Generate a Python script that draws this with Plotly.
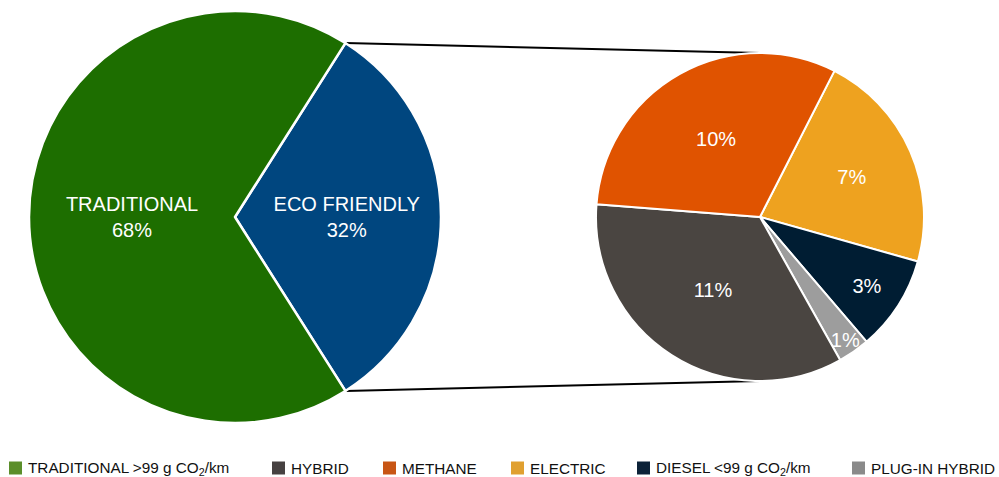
import math
import plotly.graph_objects as go

# --- data -------------------------------------------------------------
main_labels = ["ECO FRIENDLY", "TRADITIONAL"]
main_values = [32, 68]
main_colors = ["#00467f", "#1d6e00"]

eco_labels = ["ELECTRIC", "DIESEL <99 g CO<sub>2</sub>/km", "PLUG-IN HYBRID", "HYBRID", "METHANE"]
eco_values = [7, 3, 1, 11, 10]
eco_colors = ["#eea21f", "#001d33", "#9d9d9d", "#4a4541", "#e05300"]

legend_labels = ["TRADITIONAL >99 g CO<sub>2</sub>/km", "HYBRID", "METHANE", "ELECTRIC",
                 "DIESEL <99 g CO<sub>2</sub>/km", "PLUG-IN HYBRID"]
legend_colors = ["#5b8e2a", "#464141", "#c85514", "#e0a030", "#0c2238", "#8a8a8a"]

W, H = 999, 477
FONT = "Liberation Sans, Arial, Helvetica, sans-serif"

# pie geometry in pixels (centre x, centre y from top, radius)
main_c = (235, 217, 206)
eco_c = (760, 217, 164)


def domain(c):
    cx, cy, r = c
    return dict(x=[(cx - r) / W, (cx + r) / W], y=[(H - cy - r) / H, (H - cy + r) / H])


eco_share = main_values[0] / sum(main_values)
half = eco_share * 180.0  # half-angle of the eco-friendly wedge
main_rotation = 90 - half

fig = go.Figure()
fig.add_trace(go.Pie(
    labels=main_labels, values=main_values, sort=False, direction="clockwise",
    rotation=main_rotation, domain=domain(main_c),
    marker=dict(colors=main_colors, line=dict(color="white", width=2.5)),
    texttemplate="%{label}<br>%{value}%", textposition="inside",
    insidetextorientation="horizontal",
    textfont=dict(family=FONT, size=20, color="white"),
    showlegend=False, hoverinfo="label+value",
))
fig.add_trace(go.Pie(
    labels=eco_labels, values=eco_values, sort=False, direction="clockwise",
    rotation=27, domain=domain(eco_c),
    marker=dict(colors=eco_colors, line=dict(color="white", width=2)),
    texttemplate="%{value}%", textposition="inside",
    insidetextorientation="horizontal",
    textfont=dict(family=FONT, size=20, color="white"),
    showlegend=False, hoverinfo="label+value",
))

# connector lines from the eco-friendly wedge edges to the top/bottom of the breakdown pie
shapes = []
cx, cy, r = main_c
ex, ey, er = eco_c
a = math.radians(half)
for sgn in (-1, 1):
    x0 = cx + r * math.cos(a)
    y0 = cy + sgn * r * math.sin(a)
    x1 = ex
    y1 = ey + sgn * er
    shapes.append(dict(type="line", xref="paper", yref="paper",
                       x0=x0 / W, y0=1 - y0 / H, x1=x1 / W, y1=1 - y1 / H,
                       line=dict(color="black", width=2), layer="below"))

# legend row
annotations = []
leg_x = [9, 272, 383, 511, 637, 852]
leg_y = 468
sq = 13
for lx, lab, col in zip(leg_x, legend_labels, legend_colors):
    shapes.append(dict(type="rect", xref="paper", yref="paper",
                       x0=lx / W, x1=(lx + sq) / W,
                       y0=1 - (leg_y + sq / 2) / H, y1=1 - (leg_y - sq / 2) / H,
                       fillcolor=col, line=dict(width=0)))
    annotations.append(dict(x=(lx + sq + 4) / W, y=1 - leg_y / H, xref="paper", yref="paper",
                            text=lab, showarrow=False, xanchor="left", yanchor="middle",
                            font=dict(family=FONT, size=15.3, color="#111111")))

fig.update_layout(
    width=W, height=H, margin=dict(l=0, r=0, t=0, b=0),
    paper_bgcolor="white", plot_bgcolor="white",
    shapes=shapes, annotations=annotations,
    uniformtext=dict(minsize=20, mode="show"),
)
fig.write_html("out.html")
